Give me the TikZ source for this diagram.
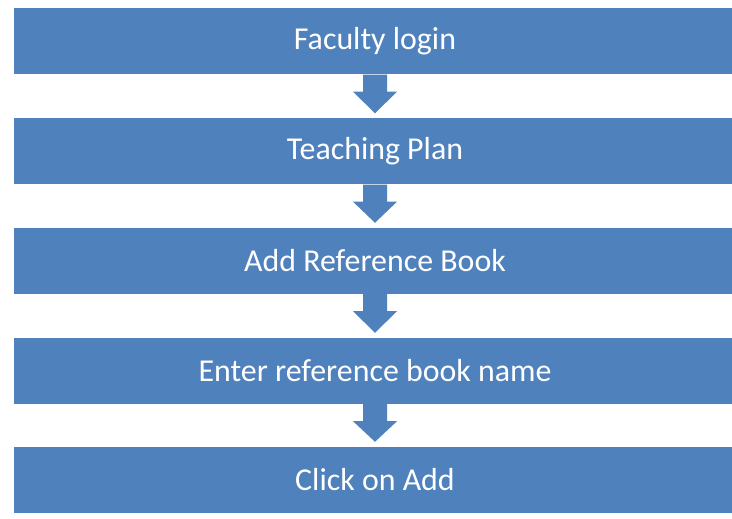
\documentclass[tikz,border=0pt]{standalone}
\usepackage{fontspec}
\setmainfont{Carlito}
\usepackage{tikz}
\usetikzlibrary{calc}

\definecolor{stepblue}{HTML}{4F81BD}

\begin{document}
\begin{tikzpicture}[x=1bp,y=-1bp,
    stepbox/.style={rectangle,fill=stepblue,text=white,minimum width=722bp,
      minimum height=66bp,inner sep=0pt,font=\fontsize{32}{34}\selectfont},
    downarrow/.style={fill=stepblue,draw=none}]

\useasboundingbox (0,0) rectangle (732,519);

% Steps
\node[stepbox] (login) at (375,41.5) {Faculty login};
\node[stepbox] (plan) at (375,151.5) {Teaching Plan};
\node[stepbox] (addref) at (375,261) {Add Reference Book};
\node[stepbox] (enter) at (375,371) {Enter reference book name};
\node[stepbox] (click) at (375,480) {Click on Add};

% Block arrows between steps
\foreach \a/\b in {login/plan,plan/addref,addref/enter,enter/click} {
  \fill[downarrow] (\a.south) ++(-12,0) -- ++(0,17) -- ++(-10,0)
    -- ($(\b.north)+(0,-5)$) -- ($(\a.south)+(22,17)$) -- ++(-10,0)
    -- ($(\a.south)+(12,0)$) -- cycle;
}

\end{tikzpicture}
\end{document}
